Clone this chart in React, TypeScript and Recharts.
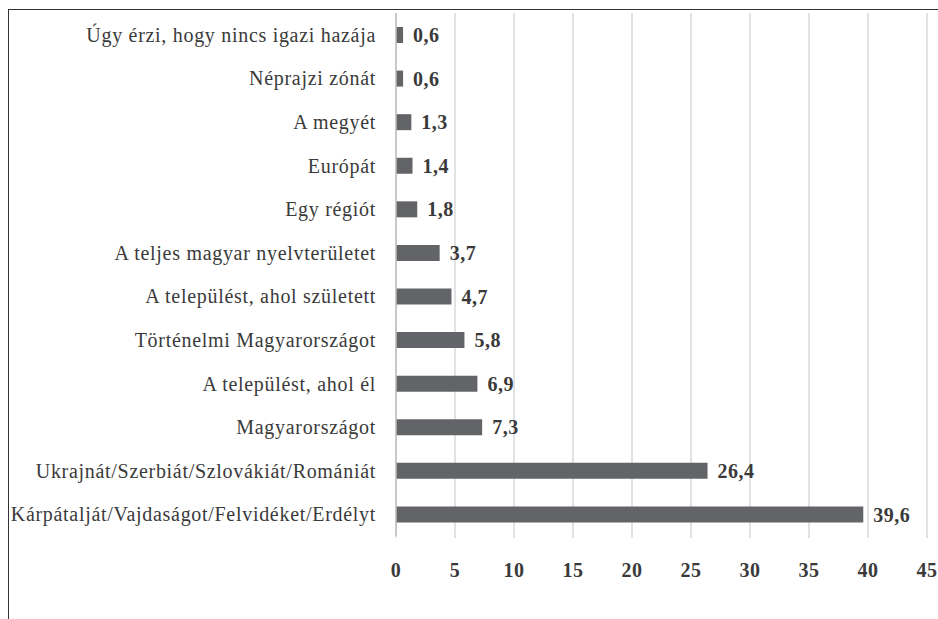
import React from "react"
import {
  BarChart,
  Bar,
  XAxis,
  YAxis,
  CartesianGrid,
  LabelList
} from "recharts"

const categories = [
  "Úgy érzi, hogy nincs igazi hazája",
  "Néprajzi zónát",
  "A megyét",
  "Európát",
  "Egy régiót",
  "A teljes magyar nyelvterületet",
  "A települést, ahol született",
  "Történelmi Magyarországot",
  "A települést, ahol él",
  "Magyarországot",
  "Ukrajnát/Szerbiát/Szlovákiát/Romániát",
  "Kárpátalját/Vajdaságot/Felvidéket/Erdélyt"
]
const values = [0.6, 0.6, 1.3, 1.4, 1.8, 3.7, 4.7, 5.8, 6.9, 7.3, 26.4, 39.6]
const xTicks = [0, 5, 10, 15, 20, 25, 30, 35, 40, 45]

const data = categories.map((name, i) => ({ name, value: values[i] }))

const font = "Liberation Serif"
const textColor = "#3a3a3a"

const App = () => {
  return (
    <div style={{ position: "absolute", left: 0, top: 0, width: 938, height: 619, background: "#fff", fontFamily: font }}>
      <div
        style={{
          position: "absolute",
          left: 8,
          top: 9,
          right: 0,
          bottom: 0,
          borderTop: "1.5px solid #333",
          borderLeft: "1.5px solid #333"
        }}
      />
      <BarChart
        width={938}
        height={619}
        layout="vertical"
        data={data}
        style={{ fontFamily: font }}
        margin={{ top: 13, right: 11, bottom: 43, left: 0 }}>
        <CartesianGrid horizontal={false} stroke="#d9d9d9" strokeWidth={1.5} />
        <XAxis
          type="number"
          domain={[0, 45]}
          ticks={xTicks}
          height={40}
          axisLine={false}
          tickLine={{ stroke: "#d9d9d9", strokeWidth: 1.5 }}
          tickSize={2}
          tickMargin={25}
          tick={{ fill: textColor, fontFamily: font, fontSize: 20, fontWeight: 700, letterSpacing: 0.5 }}
        />
        <YAxis
          type="category"
          dataKey="name"
          width={396}
          axisLine={{ stroke: "#bfbfbf", strokeWidth: 1.5 }}
          tickLine={false}
          tickSize={0}
          tickMargin={20}
          interval={0}
          tick={{ fill: textColor, fontFamily: font, fontSize: 20, letterSpacing: 0.7 }}
        />
        <Bar dataKey="value" fill="#636467" barSize={16} isAnimationActive={false}>
          <LabelList
            dataKey="value"
            position="right"
            offset={10}
            formatter={(v: number) => String(v).replace(".", ",")}
            style={{ fill: textColor, fontFamily: font, fontSize: 20, fontWeight: 700, letterSpacing: 0.5 }}
          />
        </Bar>
      </BarChart>
    </div>
  )
}

export default App
